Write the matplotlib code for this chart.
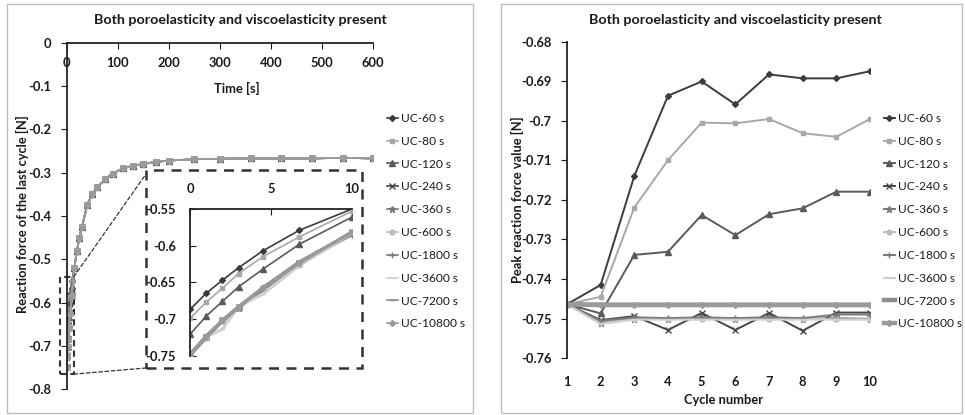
import numpy as np
import matplotlib.pyplot as plt
from matplotlib.patches import Rectangle, ConnectionPatch
from matplotlib.ticker import FuncFormatter

plt.rcParams['font.family'] = ['Lato', 'DejaVu Sans']

# ---- series styling (Excel grayscale look) ----
labels = ['UC-60 s', 'UC-80 s', 'UC-120 s', 'UC-240 s', 'UC-360 s',
          'UC-600 s', 'UC-1800 s', 'UC-3600 s', 'UC-7200 s', 'UC-10800 s']
colors = ['#3c3c3c', '#a8a8a8', '#5a5a5a', '#474747', '#777777',
          '#bcbcbc', '#7a7a7a', '#cfcfcf', '#8e8e8e', '#9a9a9a']
markers = ['D', 's', '^', 'x', '*', 'o', '+', '_', '_', 'D']
msizes = [3, 3.5, 3.8, 4, 4.5, 3.5, 4.5, 4, 4, 3]

# ---- left chart: reaction force of the last cycle ----
t_early = [0, 1, 2, 3, 4.5, 6.75, 10]
early_60 = [-0.687, -0.665, -0.647, -0.630, -0.607, -0.579, -0.550]
early_80 = [-0.699, -0.677, -0.658, -0.638, -0.615, -0.588, -0.553]
early_120 = [-0.721, -0.696, -0.676, -0.656, -0.632, -0.598, -0.561]
early_240 = [-0.749, -0.724, -0.702, -0.684, -0.659, -0.624, -0.582]
early_360 = [-0.749, -0.725, -0.703, -0.685, -0.658, -0.625, -0.583]
early_600 = [-0.750, -0.726, -0.701, -0.683, -0.657, -0.626, -0.584]
early_1800 = [-0.748, -0.723, -0.702, -0.685, -0.660, -0.623, -0.585]
early_3600 = [-0.750, -0.724, -0.714, -0.683, -0.666, -0.627, -0.583]
early_7200 = [-0.749, -0.725, -0.703, -0.684, -0.657, -0.622, -0.582]
early_10800 = [-0.749, -0.724, -0.702, -0.683, -0.658, -0.624, -0.581]
early_all = [early_60, early_80, early_120, early_240, early_360,
             early_600, early_1800, early_3600, early_7200, early_10800]

t_late = [15, 20, 25, 30, 40, 50, 60, 75, 90, 110, 130, 150, 175, 200,
          250, 300, 360, 420, 480, 540, 600]
late_force = [-0.520, -0.480, -0.450, -0.425, -0.375, -0.350, -0.333, -0.315,
              -0.302, -0.290, -0.284, -0.280, -0.275, -0.272, -0.269, -0.268,
              -0.267, -0.267, -0.267, -0.266, -0.267]

# ---- right chart: peak reaction force per cycle ----
cycles = [1, 2, 3, 4, 5, 6, 7, 8, 9, 10]
peak_60 = [-0.7464, -0.7415, -0.7139, -0.6936, -0.6900, -0.6958, -0.6882, -0.6892, -0.6892, -0.6874]
peak_80 = [-0.7464, -0.7445, -0.7219, -0.7099, -0.7004, -0.7006, -0.6995, -0.7031, -0.7040, -0.6995]
peak_120 = [-0.7464, -0.7487, -0.7339, -0.7331, -0.7238, -0.7289, -0.7236, -0.7221, -0.7179, -0.7179]
peak_240 = [-0.7464, -0.7504, -0.7494, -0.7529, -0.7486, -0.7529, -0.7486, -0.7531, -0.7485, -0.7485]
peak_360 = [-0.7464, -0.7512, -0.7500, -0.7501, -0.7499, -0.7501, -0.7499, -0.7501, -0.7499, -0.7501]
peak_600 = [-0.7464, -0.7510, -0.7502, -0.7500, -0.7502, -0.7500, -0.7502, -0.7500, -0.7502, -0.7502]
peak_1800 = [-0.7464, -0.7506, -0.7497, -0.7499, -0.7497, -0.7499, -0.7497, -0.7499, -0.7490, -0.7490]
peak_3600 = [-0.7464, -0.7514, -0.7503, -0.7503, -0.7503, -0.7503, -0.7503, -0.7503, -0.7503, -0.7503]
peak_7200 = [-0.7464, -0.7466, -0.7466, -0.7466, -0.7466, -0.7466, -0.7466, -0.7466, -0.7466, -0.7466]
peak_10800 = [-0.7464, -0.7465, -0.7465, -0.7465, -0.7465, -0.7465, -0.7465, -0.7465, -0.7465, -0.7465]
peak_all = [peak_60, peak_80, peak_120, peak_240, peak_360,
            peak_600, peak_1800, peak_3600, peak_7200, peak_10800]

title = 'Both poroelasticity and viscoelasticity present'
W, H = 965, 415


def fx(px):
    return px / W


def fy(py):
    return 1 - py / H


def num(v, p):
    v = round(v, 4)
    return '0' if v == 0 else f'{v:g}'


fmt = FuncFormatter(num)
fs = 9.3      # ticks and axis titles
fs_t = 10.3   # chart titles
fs_l = 8.6    # legends
txt = '#1a1a1a'

fig = plt.figure(figsize=(W / 100, H / 100), dpi=100)

# panel frames
for x0, x1 in [(7, 473), (501, 962)]:
    fig.add_artist(Rectangle((fx(x0), fy(413)), (x1 - x0) / W, 409 / H,
                             transform=fig.transFigure, fill=False,
                             ec='#bdbdbd', lw=1))

# ---------------- left main axes ----------------
ax = fig.add_axes([fx(66.7), fy(389.3), 306.6 / W, 346.6 / H])
for i in range(10):
    ax.plot(t_early + t_late, early_all[i] + late_force, color=colors[i],
            marker=markers[i], ms=msizes[i], lw=1.2, label=labels[i],
            mec=colors[i], mfc=colors[i], mew=1)
ax.set_xlim(0, 600)
ax.set_ylim(-0.8, 0)
ax.spines['top'].set_visible(False)
ax.spines['right'].set_visible(False)
ax.spines['bottom'].set_position(('data', 0))
for s in ['left', 'bottom']:
    ax.spines[s].set_linewidth(1.3)
    ax.spines[s].set_color('#222222')
ax.set_xticks(np.arange(0, 601, 100))
ax.set_yticks(np.arange(-0.8, 0.01, 0.1))
ax.yaxis.set_major_formatter(fmt)
ax.tick_params(axis='x', direction='out', length=4, pad=6, labelsize=fs, colors=txt)
ax.tick_params(axis='y', direction='out', length=4, pad=7, labelsize=fs, colors=txt)
for lb in ax.get_xticklabels() + ax.get_yticklabels():
    lb.set_fontweight('bold')

fig.text(fx(237), fy(88), 'Time [s]', ha='center', va='center',
         fontsize=fs, fontweight='bold', color=txt)
fig.text(fx(22), fy(214), 'Reaction force of the last cycle [N]', rotation=90,
         ha='center', va='center', fontsize=fs, fontweight='bold', color=txt)
fig.text(fx(240), fy(20), title, ha='center', va='center',
         fontsize=fs_t, fontweight='bold', color=txt)

# zoom box on the main curve and connectors
ax.add_patch(Rectangle((-13, -0.765), 27, 0.225, fill=False, ls=(0, (3, 2)),
                       lw=1.5, ec='#333333', clip_on=False))
for ya, pyb in [(-0.54, 174), (-0.765, 368)]:
    con = ConnectionPatch(xyA=(14, ya), coordsA=ax.transData,
                          xyB=(fx(146), fy(pyb)), coordsB=fig.transFigure,
                          ls=(0, (3, 2)), lw=0.9, color='#333333')
    fig.add_artist(con)
fig.add_artist(Rectangle((fx(146), fy(368)), 216 / W, 198 / H,
                         transform=fig.transFigure, fill=False,
                         ls=(0, (4, 3)), lw=1.8, ec='#333333'))

# ---------------- inset ----------------
axi = fig.add_axes([fx(190), fy(355.7), 162 / W, 146.7 / H])
axi.patch.set_alpha(0)
for i in range(10):
    big = i >= 3
    axi.plot(t_early, early_all[i], color=colors[i], marker=markers[i],
             ms=msizes[i], lw=2.2 if big else 1.2, mec=colors[i], mfc=colors[i], mew=1)
axi.set_xlim(0, 10)
axi.set_ylim(-0.75, -0.55)
axi.spines['bottom'].set_visible(False)
axi.spines['right'].set_visible(False)
for s in ['left', 'top']:
    axi.spines[s].set_linewidth(1.3)
    axi.spines[s].set_color('#222222')
axi.xaxis.set_ticks_position('top')
axi.set_xticks([0, 5, 10])
axi.set_yticks([-0.75, -0.7, -0.65, -0.6, -0.55])
axi.yaxis.set_major_formatter(fmt)
axi.tick_params(axis='x', direction='in', length=4, pad=10, labelsize=fs, colors=txt)
axi.tick_params(axis='y', direction='in', length=4, pad=10, labelsize=fs, colors=txt)
for lb in axi.get_xticklabels() + axi.get_yticklabels():
    lb.set_fontweight('bold')

leg1 = ax.legend(loc='upper left', bbox_to_anchor=(fx(387), fy(113)),
                 bbox_transform=fig.transFigure, frameon=False,
                 prop={'size': fs_l},
                 handlelength=0.9, handletextpad=0.25, borderpad=0,
                 borderaxespad=0, labelspacing=0.99)
for t in leg1.get_texts():
    t.set_color(txt)

# ---------------- right axes ----------------
ax2 = fig.add_axes([fx(567), fy(358), 303 / W, 316 / H])
for i in range(10):
    lw = 3.2 if i in (8, 9) else 1.4
    ax2.plot(cycles, peak_all[i], color=colors[i], marker=markers[i],
             ms=msizes[i], lw=lw, label=labels[i], mec=colors[i],
             mfc=colors[i], mew=1)
ax2.set_xlim(1, 10)
ax2.set_ylim(-0.76, -0.68)
for s in ['top', 'right', 'bottom']:
    ax2.spines[s].set_visible(False)
ax2.spines['left'].set_linewidth(1.3)
ax2.spines['left'].set_color('#222222')
ax2.set_xticks(cycles)
ax2.set_yticks(np.arange(-0.76, -0.6799, 0.01))
ax2.yaxis.set_major_formatter(fmt)
ax2.tick_params(axis='x', length=0, pad=13, labelsize=fs, colors=txt)
ax2.tick_params(axis='y', direction='out', length=4, pad=7, labelsize=fs, colors=txt)
for lb in ax2.get_xticklabels() + ax2.get_yticklabels():
    lb.set_fontweight('bold')

fig.text(fx(724), fy(400), 'Cycle number', ha='center', va='center',
         fontsize=fs, fontweight='bold', color=txt)
fig.text(fx(517), fy(200), 'Peak reaction force value [N]', rotation=90,
         ha='center', va='center', fontsize=fs, fontweight='bold', color=txt)
fig.text(fx(735), fy(20), title, ha='center', va='center',
         fontsize=fs_t, fontweight='bold', color=txt)

leg2 = ax2.legend(loc='upper left', bbox_to_anchor=(fx(884), fy(113)),
                  bbox_transform=fig.transFigure, frameon=False,
                  prop={'size': fs_l},
                  handlelength=0.9, handletextpad=0.25, borderpad=0,
                  borderaxespad=0, labelspacing=0.99)
for t in leg2.get_texts():
    t.set_color(txt)

fig.savefig('out.png', dpi=100)
